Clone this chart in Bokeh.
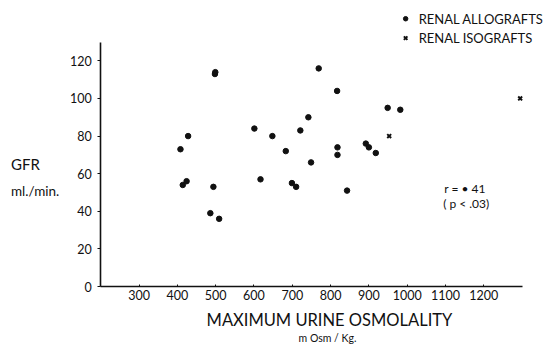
from bokeh.plotting import figure
from bokeh.models import Range1d, FixedTicker, Label
from bokeh.embed import file_html
from bokeh.resources import INLINE

# Data
allo_osm = [408, 428, 414, 424, 498, 499, 494, 486, 509, 601, 617, 648, 683, 699, 710,
            721, 742, 749, 769, 817, 818, 818, 843, 892, 900, 918, 949, 982]
allo_gfr = [73, 80, 54, 56, 113, 114, 53, 39, 36, 84, 57, 80, 72, 55, 53,
            83, 90, 66, 116, 104, 74, 70, 51, 76, 74, 71, 95, 94]
iso_osm = [953, 1295]
iso_gfr = [80, 100]
x_ticks = [300, 400, 500, 600, 700, 800, 900, 1000, 1100, 1200]
y_ticks = [0, 20, 40, 60, 80, 100, 120]

FONT = "Lato"
INK = "#111111"

p = figure(width=548, height=346, output_backend="svg", toolbar_location=None,
           x_range=Range1d(-61.9, 1369), y_range=Range1d(-31.9, 152.1),
           min_border_left=0, min_border_right=0, min_border_top=0, min_border_bottom=0)
p.outline_line_color = None
p.grid.visible = False
p.background_fill_color = "white"

for ax in (p.xaxis[0], p.yaxis[0]):
    ax.axis_line_color = INK
    ax.axis_line_width = 1.6
    ax.major_tick_line_color = INK
    ax.minor_tick_line_color = None
    ax.major_label_text_font = FONT
    ax.major_label_text_font_size = "12.5px"
    ax.major_label_text_color = INK

p.xaxis.fixed_location = 0
p.yaxis.fixed_location = 200
p.xaxis.bounds = (200, 1300)
p.yaxis.bounds = (0, 130)
p.xaxis.ticker = FixedTicker(ticks=x_ticks)
p.yaxis.ticker = FixedTicker(ticks=y_ticks)
p.xaxis.major_tick_in = 2
p.xaxis.major_tick_out = 0
p.xaxis.major_label_standoff = 3
p.yaxis.major_tick_in = 0
p.yaxis.major_tick_out = 3
p.yaxis.major_label_standoff = 6

p.scatter(allo_osm, allo_gfr, marker="circle", size=5.5, color=INK)
p.scatter(iso_osm, iso_gfr, marker="x", size=5.5, line_color=INK, line_width=2)

# legend
p.scatter([996], [142.4], marker="circle", size=4.5, color=INK)
p.scatter([996], [132.1], marker="x", size=5, line_color=INK, line_width=2)

def lab(x, y, t, size, align="left"):
    p.add_layout(Label(x=x, y=y, text=t, text_font=FONT, text_font_size=size,
                       text_color=INK, text_align=align, text_baseline="middle"))

lab(1030, 142.4, "RENAL  ALLOGRAFTS", "13px")
lab(1030, 132.1, "RENAL  ISOGRAFTS", "13px")
lab(808, -17.8, "MAXIMUM  URINE  OSMOLALITY", "16.5px", "center")
lab(792, -27.6, "m Osm / Kg.", "10.5px", "center")
lab(-34.5, 65.4, "GFR", "15px")
lab(-34.5, 50.7, "ml./min.", "13.5px")
lab(1097, 52.1, "r = • 41", "12px")
lab(1094, 44.3, "( p < .03)", "12px")

open("out.html", "w").write(file_html(p, INLINE))
